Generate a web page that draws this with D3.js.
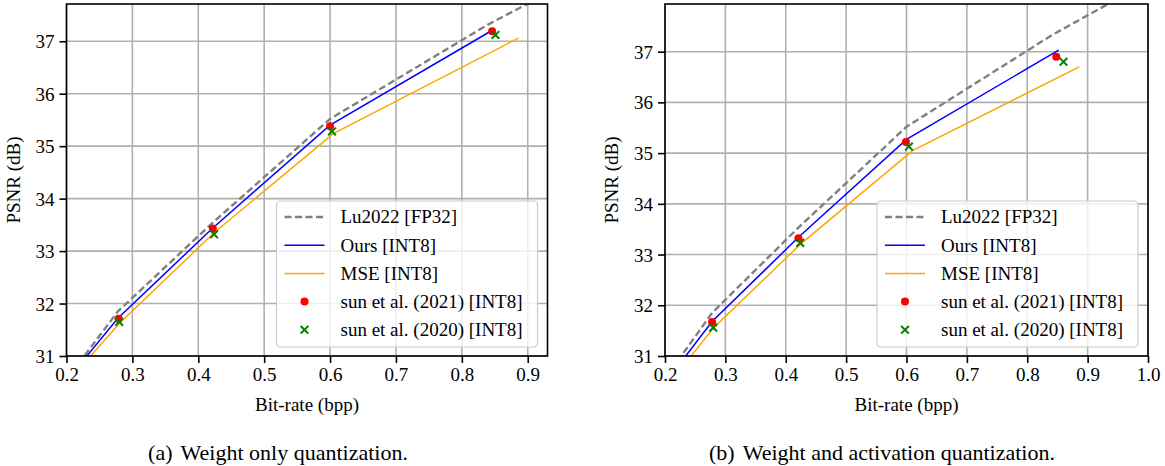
<!DOCTYPE html>
<html>
<head>
<meta charset="utf-8">
<script src="https://cdn.jsdelivr.net/npm/d3@7"></script>
<style>
  body { margin: 0; background: #fff; }
</style>
</head>
<body>
<svg id="fig" width="1165" height="466"></svg>
<script>
// reference curve (same in both panels)
const lu2022X = [0.17, 0.278, 0.42, 0.60, 0.84, 1.2];
const lu2022Y = [30.05, 31.85, 33.52, 35.52, 37.32, 39.7];

// (a) weight only
const oursWX = [0.17, 0.278, 0.422, 0.60, 0.845];
const oursWY = [30.07, 31.72, 33.44, 35.40, 37.20];
const mseWX = [0.17, 0.28, 0.424, 0.605, 0.886];
const mseWY = [30.05, 31.62, 33.35, 35.24, 37.06];
const sun2021WX = [0.279, 0.422, 0.600, 0.846];
const sun2021WY = [31.71, 33.43, 35.38, 37.19];
const sun2020WX = [0.280, 0.424, 0.603, 0.851];
const sun2020WY = [31.65, 33.32, 35.28, 37.12];

// (b) weight and activation
const oursAX = [0.17, 0.278, 0.421, 0.600, 0.852];
const oursAY = [30.0, 31.68, 33.34, 35.27, 37.03];
const mseAX = [0.17, 0.28, 0.424, 0.61, 0.886];
const mseAY = [29.9, 31.55, 33.2, 35.05, 36.70];
const sun2021AX = [0.278, 0.421, 0.599, 0.848];
const sun2021AY = [31.67, 33.32, 35.22, 36.90];
const sun2020AX = [0.280, 0.424, 0.604, 0.860];
const sun2020AY = [31.56, 33.23, 35.13, 36.80];

const xTicksA = [0.2, 0.3, 0.4, 0.5, 0.6, 0.7, 0.8, 0.9];
const xTicksB = [0.2, 0.3, 0.4, 0.5, 0.6, 0.7, 0.8, 0.9, 1.0];
const yTicks = [31, 32, 33, 34, 35, 36, 37];

const legendLabels = ['Lu2022 [FP32]', 'Ours [INT8]', 'MSE [INT8]', 'sun et al. (2021) [INT8]', 'sun et al. (2020) [INT8]'];

const FONT = '"Liberation Serif", "DejaVu Serif", serif';
const zip = (xs, ys) => xs.map((x, i) => [x, ys[i]]);

const svg = d3.select('#fig');

function txt(sel, size) {
  return sel.style('font-family', FONT).style('font-size', size + 'px').attr('fill', '#000');
}

function drawPanel(opt) {
  const left = opt.left, right = opt.right, top = 4, bottom = 356;
  const x = d3.scaleLinear().domain(opt.xDomain).range([left, right]);
  const y = d3.scaleLinear().domain(opt.yDomain).range([bottom, top]);
  const g = svg.append('g');

  const clipId = 'clip-' + opt.id;
  g.append('clipPath').attr('id', clipId)
    .append('rect').attr('x', left).attr('y', top).attr('width', right - left).attr('height', bottom - top);

  // grid
  g.append('g').selectAll('line').data(opt.xTicks).enter().append('line')
    .attr('x1', d => x(d)).attr('x2', d => x(d)).attr('y1', top).attr('y2', bottom)
    .attr('stroke', '#b0b0b0').attr('stroke-width', 1.6);
  g.append('g').selectAll('line').data(yTicks).enter().append('line')
    .attr('y1', d => y(d)).attr('y2', d => y(d)).attr('x1', left).attr('x2', right)
    .attr('stroke', '#b0b0b0').attr('stroke-width', 1.6);

  // axes
  const xAxis = d3.axisBottom(x).tickValues(opt.xTicks).tickFormat(d3.format('.1f')).tickSizeOuter(0).tickSize(7).tickPadding(5);
  const yAxis = d3.axisLeft(y).tickValues(yTicks).tickFormat(d3.format('d')).tickSizeOuter(0).tickSize(7).tickPadding(5);
  const gx = g.append('g').attr('transform', 'translate(0,' + bottom + ')').call(xAxis);
  const gy = g.append('g').attr('transform', 'translate(' + left + ',0)').call(yAxis);
  [gx, gy].forEach(a => {
    a.attr('font-family', null).attr('font-size', null);
    a.select('.domain').remove();
    a.selectAll('line').attr('stroke', '#000').attr('stroke-width', 1.6);
    txt(a.selectAll('text'), 19);
  });
  gy.selectAll('text').attr('dy', '0.34em');

  // series
  const plot = g.append('g').attr('clip-path', 'url(#' + clipId + ')');
  const line = d3.line().x(d => x(d[0])).y(d => y(d[1]));
  plot.append('path').datum(zip(lu2022X, lu2022Y)).attr('d', line)
    .attr('fill', 'none').attr('stroke', 'gray').attr('stroke-width', 2.4).attr('stroke-dasharray', '7,3.5');
  plot.append('path').datum(zip(opt.oursX, opt.oursY)).attr('d', line)
    .attr('fill', 'none').attr('stroke', 'blue').attr('stroke-width', 1.5);
  plot.append('path').datum(zip(opt.mseX, opt.mseY)).attr('d', line)
    .attr('fill', 'none').attr('stroke', 'orange').attr('stroke-width', 1.5);
  plot.selectAll('circle.s21').data(zip(opt.s21X, opt.s21Y)).enter().append('circle')
    .attr('cx', d => x(d[0])).attr('cy', d => y(d[1])).attr('r', 4).attr('fill', 'red');
  const cross = d3.symbol().type(d3.symbolX).size(40);
  plot.selectAll('path.s20').data(zip(opt.s20X, opt.s20Y)).enter().append('path')
    .attr('d', cross).attr('transform', d => 'translate(' + x(d[0]) + ',' + y(d[1]) + ')')
    .attr('fill', 'none').attr('stroke', 'green').attr('stroke-width', 2);

  // frame
  g.append('rect').attr('x', left).attr('y', top).attr('width', right - left).attr('height', bottom - top)
    .attr('fill', 'none').attr('stroke', '#000').attr('stroke-width', 1.6);

  // axis labels
  txt(g.append('text'), 19).attr('x', (left + right) / 2).attr('y', 411).attr('text-anchor', 'middle')
    .text('Bit-rate (bpp)');
  txt(g.append('text'), 19).attr('transform', 'translate(' + (left - 47) + ',' + ((top + bottom) / 2) + ') rotate(-90)')
    .attr('text-anchor', 'middle').text('PSNR (dB)');

  // caption
  const cap = txt(g.append('text'), 22).attr('x', opt.capX).attr('y', 460).attr('text-anchor', 'middle');
  cap.append('tspan').text(opt.capTag);
  cap.append('tspan').attr('dx', 8).text(opt.capText);

  // legend
  const lw = 261, lh = 146;
  const lx = right - 10 - lw, ly = 201;
  const lg = g.append('g');
  lg.append('rect').attr('x', lx).attr('y', ly).attr('width', lw).attr('height', lh).attr('rx', 4)
    .attr('fill', 'white').attr('fill-opacity', 0.8).attr('stroke', '#cccccc').attr('stroke-width', 1.2);
  const rows = legendLabels.map((t, i) => ({ t: t, i: i, cy: ly + 16 + i * 28.2 }));
  const hx0 = lx + 8, hx1 = lx + 48, tx = lx + 64;
  rows.forEach(r => {
    if (r.i === 0) {
      lg.append('line').attr('x1', hx0).attr('x2', hx1).attr('y1', r.cy).attr('y2', r.cy)
        .attr('stroke', 'gray').attr('stroke-width', 2.4).attr('stroke-dasharray', '7,3.5');
    } else if (r.i === 1 || r.i === 2) {
      lg.append('line').attr('x1', hx0).attr('x2', hx1).attr('y1', r.cy).attr('y2', r.cy)
        .attr('stroke', r.i === 1 ? 'blue' : 'orange').attr('stroke-width', 1.5);
    } else if (r.i === 3) {
      lg.append('circle').attr('cx', (hx0 + hx1) / 2).attr('cy', r.cy).attr('r', 4).attr('fill', 'red');
    } else {
      lg.append('path').attr('d', cross).attr('transform', 'translate(' + ((hx0 + hx1) / 2) + ',' + r.cy + ')')
        .attr('fill', 'none').attr('stroke', 'green').attr('stroke-width', 2);
    }
    txt(lg.append('text'), 19).attr('x', tx).attr('y', r.cy).attr('dy', '0.34em').text(r.t);
  });
}

drawPanel({
  id: 'a', left: 66.5, right: 547.5, xDomain: [0.2, 0.93], yDomain: [31, 37.71], xTicks: xTicksA,
  oursX: oursWX, oursY: oursWY, mseX: mseWX, mseY: mseWY,
  s21X: sun2021WX, s21Y: sun2021WY, s20X: sun2020WX, s20Y: sun2020WY,
  capX: 278, capTag: '(a)', capText: 'Weight only quantization.'
});
drawPanel({
  id: 'b', left: 665, right: 1148, xDomain: [0.2, 1.0], yDomain: [31, 37.94], xTicks: xTicksB,
  oursX: oursAX, oursY: oursAY, mseX: mseAX, mseY: mseAY,
  s21X: sun2021AX, s21Y: sun2021AY, s20X: sun2020AX, s20Y: sun2020AY,
  capX: 882, capTag: '(b)', capText: 'Weight and activation quantization.'
});
</script>
</body>
</html>
